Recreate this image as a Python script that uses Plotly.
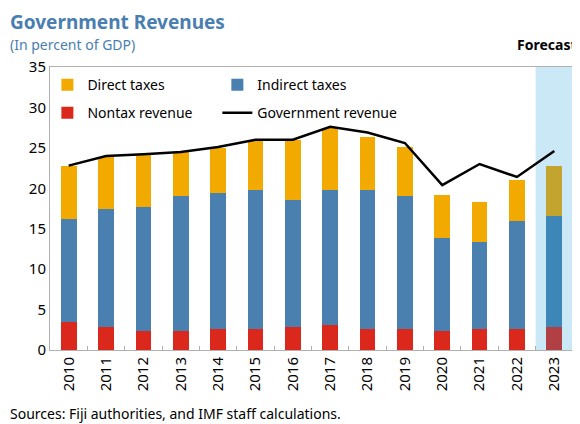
import plotly.graph_objects as go

years = ["2010", "2011", "2012", "2013", "2014", "2015", "2016", "2017", "2018", "2019", "2020", "2021", "2022", "2023"]
nontax = [3.5, 2.8, 2.4, 2.4, 2.6, 2.55, 2.8, 3.05, 2.55, 2.55, 2.4, 2.55, 2.55, 2.9]
indirect_top = [16.2, 17.4, 17.7, 19.1, 19.4, 19.8, 18.55, 19.8, 19.8, 19.1, 13.9, 13.3, 16.0, 16.6]
direct_top = [22.8, 23.9, 24.2, 24.5, 25.0, 26.0, 26.0, 27.5, 26.4, 25.1, 19.2, 18.3, 21.0, 22.7]
gov_revenue = [22.8, 24.0, 24.2, 24.5, 25.1, 26.0, 26.0, 27.6, 26.9, 25.6, 20.4, 23.0, 21.4, 24.6]

indirect = [round(t - n, 2) for t, n in zip(indirect_top, nontax)]
direct = [round(t - i, 2) for t, i in zip(direct_top, indirect_top)]

FONT = "Noto Sans"
c_direct = ["#F2A900"] * 13 + ["#C2A42F"]
c_indirect = ["#4A80B0"] * 13 + ["#3D86B8"]
c_nontax = ["#DA291C"] * 13 + ["#B04044"]

fig = go.Figure()
fig.add_trace(go.Bar(x=years, y=nontax, name="Nontax revenue", marker=dict(color=c_nontax, line_width=0),
                     legend="legend3", showlegend=True))
fig.add_trace(go.Bar(x=years, y=indirect, name="Indirect taxes", marker=dict(color=c_indirect, line_width=0),
                     legend="legend2", showlegend=True))
fig.add_trace(go.Bar(x=years, y=direct, name="Direct taxes", marker=dict(color=c_direct, line_width=0),
                     legend="legend", showlegend=True))
fig.add_trace(go.Scatter(x=years, y=gov_revenue, name="Government revenue", mode="lines",
                         line=dict(color="black", width=2.5), legend="legend4", showlegend=True))

leg_common = dict(font=dict(family=FONT, size=14, color="black"), bgcolor="rgba(0,0,0,0)",
                  xanchor="left", yanchor="middle", itemwidth=30, visible=True)

fig.update_layout(
    width=572, height=416,
    margin=dict(l=42, r=7, t=59, b=74, autoexpand=False),
    paper_bgcolor="white", plot_bgcolor="white",
    barmode="stack", bargap=0.58,
    showlegend=True,
    font=dict(family=FONT, size=14, color="black"),
    legend=dict(x=-0.005, y=0.936, **leg_common),
    legend2=dict(x=0.32, y=0.936, **leg_common),
    legend3=dict(x=-0.005, y=0.837, **leg_common),
    legend4=dict(x=0.32, y=0.837, **leg_common),
    xaxis=dict(type="category", showline=True, linecolor="#B0B0B0", linewidth=1, mirror=True,
               ticks="inside", tickson="boundaries", ticklen=4, tickcolor="#B0B0B0",
               tickangle=-90, tickfont=dict(size=15, family=FONT), showgrid=False,
               range=[-0.5, 13.5], automargin=False),
    yaxis=dict(range=[0, 35], dtick=5, showline=True, linecolor="#B0B0B0", linewidth=1, mirror=True,
               showgrid=False, zeroline=False, ticks="", tickfont=dict(size=15, family=FONT),
               automargin=False),
    shapes=[dict(type="rect", xref="x", yref="paper", x0=12.5, x1=13.5, y0=0, y1=1,
                 fillcolor="#CBE8F6", line_width=0, layer="below")],
    annotations=[
        dict(text="<b>Government Revenues</b>", xref="paper", yref="paper", x=0, y=1.0,
             xanchor="left", yanchor="bottom", yshift=30, xshift=-42, showarrow=False,
             font=dict(family=FONT, size=19, color="#4A7EB0")),
        dict(text="(In percent of GDP)", xref="paper", yref="paper", x=0, y=1.0,
             xanchor="left", yanchor="bottom", yshift=11, xshift=-42, showarrow=False,
             font=dict(family=FONT, size=14, color="#4A7EB0")),
        dict(text="<b>Forecast</b>", xref="paper", yref="paper", x=1.0, y=1.0,
             xanchor="right", yanchor="bottom", yshift=11, xshift=6, showarrow=False,
             font=dict(family=FONT, size=14, color="black")),
        dict(text="Sources: Fiji authorities, and IMF staff calculations.", xref="paper", yref="paper",
             x=0, y=0, xanchor="left", yanchor="top", yshift=-52, xshift=-42, showarrow=False,
             font=dict(family=FONT, size=14, color="black")),
    ],
)

fig.write_html("out.html")
